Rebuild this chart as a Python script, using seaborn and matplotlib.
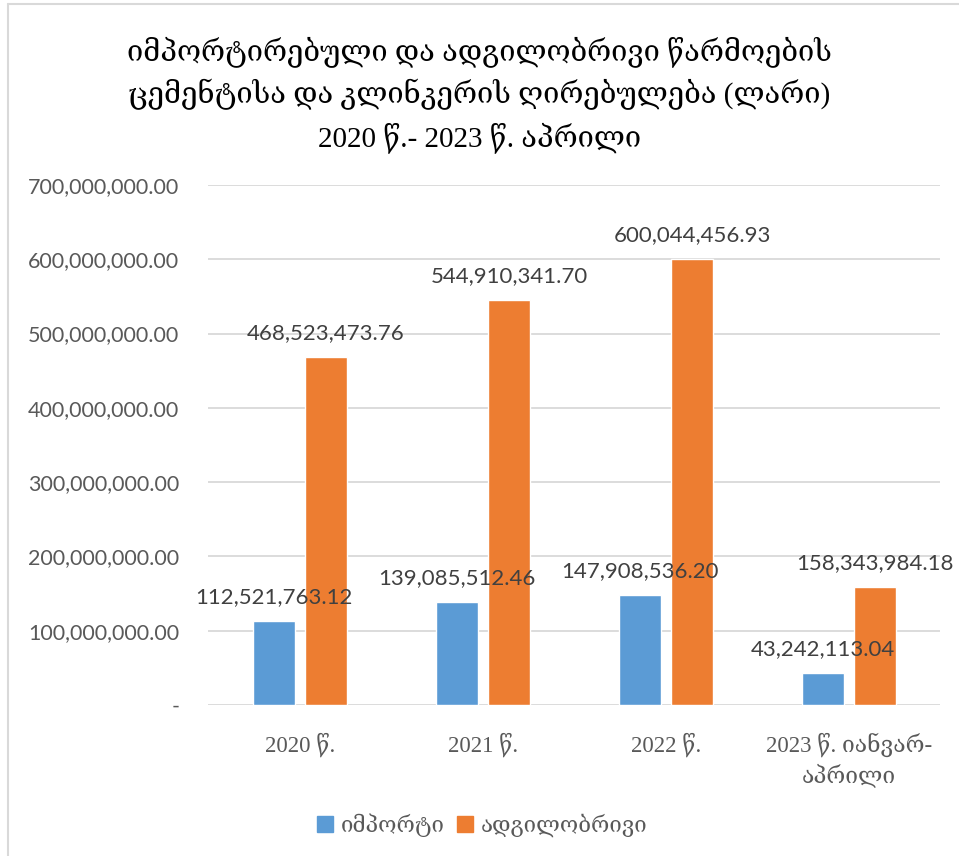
import numpy as np
import pandas as pd
import seaborn as sns
import matplotlib
matplotlib.use("Agg")
import matplotlib.pyplot as plt
from matplotlib.ticker import FuncFormatter
from matplotlib.lines import Line2D

# chart data
categories = ["2020 წ.", "2021 წ.", "2022 წ.", "2023 წ. იანვარ-\nაპრილი"]
series_names = ["იმპორტი", "ადგილობრივი"]
imported = [112521763.12, 139085512.46, 147908536.20, 43242113.04]
local = [468523473.76, 544910341.70, 600044456.93, 158343984.18]
title_text = ("იმპორტირებული და ადგილობრივი წარმოების\n"
              "ცემენტისა და კლინკერის ღირებულება (ლარი)\n"
              "2020 წ.- 2023 წ. აპრილი")
colors = ["#5B9BD5", "#ED7D31"]

sns.set_style("white")
plt.rcParams['font.family'] = ['Lato', 'DejaVu Sans']
serif_geo = ['Liberation Serif', 'DejaVu Serif']

df = pd.DataFrame({
    "cat": categories * 2,
    "series": [series_names[0]] * 4 + [series_names[1]] * 4,
    "value": imported + local,
})

fig = plt.figure(figsize=(9.59, 8.56), dpi=100)
ax = fig.add_axes([0.2174, 0.1764, 0.7633, 0.6075])

sns.barplot(data=df, x="cat", y="value", hue="series", palette=colors,
            width=0.57, gap=0.21, saturation=1, ax=ax, legend=False)

ax.set_ylim(0, 700000000)
ax.set_yticks(np.arange(0, 700000001, 100000000))
ax.yaxis.set_major_formatter(FuncFormatter(lambda v, p: "-" if v == 0 else f"{v:,.2f}"))
ax.grid(axis="y", color="#D9D9D9", lw=1.3)
ax.set_axisbelow(True)
for s in ax.spines.values():
    s.set_visible(False)
ax.tick_params(axis="y", length=0, pad=21, labelsize=15.5, labelcolor="#595959")
ax.tick_params(axis="x", length=0, pad=20, labelcolor="#595959")
for lab in ax.get_xticklabels():
    lab.set_fontfamily(serif_geo)
    lab.set_fontsize(16.5)
    lab.set_linespacing(1.35)
ax.set_xlabel("")
ax.set_ylabel("")

for cont in ax.containers:
    ax.bar_label(cont, labels=[f"{v:,.2f}" for v in cont.datavalues],
                 padding=10, fontsize=16, color="#404040")

fig.suptitle(title_text, x=0.5, y=0.958, fontsize=21, family=serif_geo,
             color="#000000", linespacing=1.5, va="top")

handles = [Line2D([0], [0], marker="s", ls="", markersize=12, color=c) for c in colors]
fig.legend(handles, series_names, loc="center", bbox_to_anchor=(0.5, 0.036), ncol=2,
           frameon=False, prop={"family": serif_geo, "size": 16}, labelcolor="#595959",
           handletextpad=0.1, columnspacing=0.3, handlelength=1.2)

# chart border (left and top edges visible in the crop)
fig.add_artist(Line2D([0.008, 0.008], [0, 0.995], transform=fig.transFigure, color="#D9D9D9", lw=1.5))
fig.add_artist(Line2D([0.008, 1], [0.995, 0.995], transform=fig.transFigure, color="#D9D9D9", lw=1.5))

fig.savefig("out.png", dpi=100)
